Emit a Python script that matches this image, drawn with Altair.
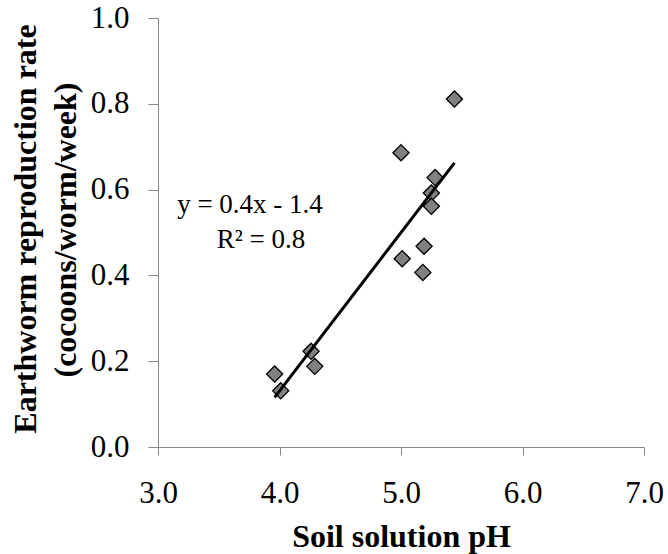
import altair as alt
import pandas as pd

# ---- data ----
ph = [3.96, 4.01, 4.26, 4.29, 5.00, 5.01, 5.18, 5.19, 5.25, 5.25, 5.28, 5.44]
rate = [0.170, 0.131, 0.223, 0.188, 0.686, 0.439, 0.407, 0.468, 0.592, 0.561, 0.628, 0.811]
x_ticks = [3, 4, 5, 6, 7]
y_ticks = [0.0, 0.2, 0.4, 0.6, 0.8, 1.0]
equation_lines = ["y = 0.4x - 1.4", "R² = 0.8"]
x_title = "Soil solution pH"
y_title_lines = ["Earthworm reproduction rate", "(cocoons/worm/week)"]

df = pd.DataFrame({"ph": ph, "rate": rate})

FONT = "Liberation Serif"
AXIS_GRAY = "#868686"

x_enc = alt.X(
    "ph:Q",
    scale=alt.Scale(domain=[3, 7], nice=False, zero=False),
    axis=alt.Axis(
        title=x_title,
        values=x_ticks,
        format=".1f",
        grid=False,
        domainColor=AXIS_GRAY,
        tickColor=AXIS_GRAY,
        tickSize=8,
        labelFlush=False,
        labelPadding=47,
        labelBaseline="alphabetic",
        labelFont=FONT,
        labelFontSize=31,
        labelColor="black",
        titleFont=FONT,
        titleFontSize=32,
        titleFontWeight="bold",
        titleColor="black",
        titleBaseline="alphabetic",
        titleY=99,
    ),
)

y_enc = alt.Y(
    "rate:Q",
    scale=alt.Scale(domain=[0, 1], nice=False, zero=False),
    axis=alt.Axis(
        title="",
        values=y_ticks,
        format=".1f",
        grid=False,
        domainColor=AXIS_GRAY,
        tickColor=AXIS_GRAY,
        tickSize=10,
        labelFlush=False,
        labelPadding=19,
        labelFont=FONT,
        labelFontSize=31,
        labelColor="black",
    ),
)

points = alt.Chart(df).mark_point(
    shape="diamond", filled=True, size=260, fill="#808080",
    stroke="black", strokeWidth=1.3, opacity=1,
).encode(x=x_enc, y=y_enc)

trend = alt.Chart(df).transform_regression("ph", "rate").mark_line(
    color="black", strokeWidth=3
).encode(x="ph:Q", y="rate:Q")


def text_line(label, xpx, ypx, size, weight, angle=0, baseline="alphabetic"):
    one = pd.DataFrame({"label": [label]})
    return alt.Chart(one).mark_text(
        font=FONT, fontSize=size, fontWeight=weight, color="black",
        align="center", baseline=baseline, angle=angle,
    ).encode(x=alt.value(xpx), y=alt.value(ypx), text="label:N")


eq1 = text_line(equation_lines[0], 92, 195, 27, "normal")
eq2 = text_line(equation_lines[1], 103, 230, 27, "normal")

yt1 = text_line(y_title_lines[0], 26 - 158, 229 - 18, 32, "bold", angle=270, baseline="middle")
yt2 = text_line(y_title_lines[1], 66 - 158, 230 - 18, 32, "bold", angle=270, baseline="middle")

chart = alt.layer(points, trend, eq1, eq2, yt1, yt2).properties(
    width=486,
    height=429,
    padding={"left": 158, "top": 18, "right": 24, "bottom": 107},
    autosize=alt.AutoSizeParams(type="none"),
).configure_view(strokeWidth=0)

chart.save("out.html", embed_options={"renderer": "svg", "actions": False})
